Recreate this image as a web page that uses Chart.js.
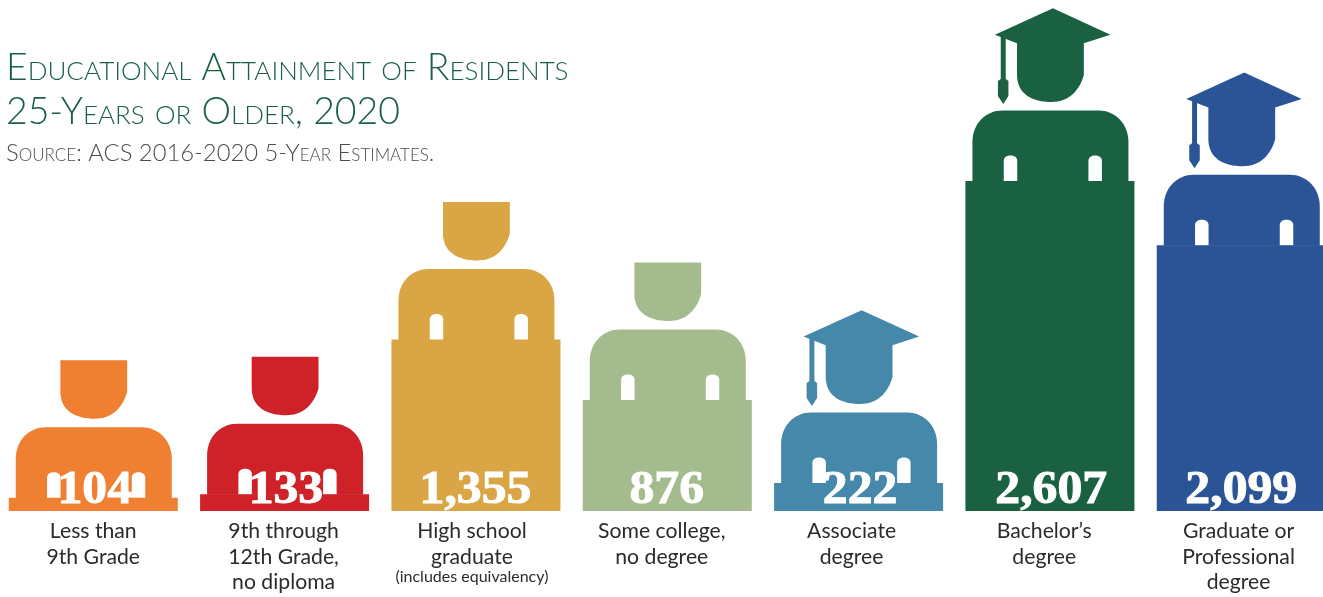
<!DOCTYPE html>
<html>
<head>
<meta charset="utf-8">
<title>Educational Attainment of Residents</title>
<script src="https://cdn.jsdelivr.net/npm/chart.js@4"></script>
<style>
  html, body { margin: 0; padding: 0; width: 1323px; height: 597px; overflow: hidden; background: #fff; }
  canvas { position: absolute; left: -3px; top: 0; }
</style>
</head>
<body>
<canvas id="chart" width="1342" height="597"></canvas>
<script>
// Residents 25 or older by highest level of schooling
const categories = [
  ["Less than", "9th Grade"],
  ["9th through", "12th Grade,", "no diploma"],
  ["High school", "graduate"],
  ["Some college,", "no degree"],
  ["Associate", "degree"],
  ["Bachelor\u2019s", "degree"],
  ["Graduate or", "Professional", "degree"]
];
const residents = [104, 133, 1355, 876, 222, 2607, 2099];
const barColors = ["#EF7F31", "#CE2228", "#DAA544", "#A4BC8D", "#4688AA", "#1A6141", "#2B5497"];
const wearsCap = [false, false, false, false, true, true, true];
const labelNudge = [0, -1, -4, -5.5, -7, -5.7, -2.7];
const valueNudge = [1.5, 1.3, -0.5, -0.5, 1.5, 1.3, 0];
const titleLines = ["Educational Attainment of Residents", "25-Years or Older, 2020"];
const sourceLine = "Source: ACS 2016-2020 5-Year Estimates.";
const footnote = "(includes equivalency)";

const pageX = 3; // canvas sits 3px left of the page edge

function drawFigure(ctx, cx, top, color, capped) {
  const c = cx + 0.5;
  ctx.fillStyle = color;

  // shoulders
  ctx.beginPath();
  ctx.moveTo(c - 78, top + 0.5);
  ctx.lineTo(c - 78, top - 39);
  ctx.bezierCurveTo(c - 78, top - 57, c - 65, top - 70.5, c - 48, top - 70.5);
  ctx.lineTo(c + 48, top - 70.5);
  ctx.bezierCurveTo(c + 65, top - 70.5, c + 78, top - 57, c + 78, top - 39);
  ctx.lineTo(c + 78, top + 0.5);
  ctx.closePath();
  ctx.fill();

  // head, with the mortarboard as part of the same outline when worn
  ctx.beginPath();
  if (capped) {
    ctx.moveTo(c - 55.5, top - 146.3);
    ctx.lineTo(c + 2.5, top - 172.7);
    ctx.lineTo(c + 60, top - 146.3);
    ctx.lineTo(c + 33.4, top - 137.7);
  } else {
    ctx.moveTo(c - 33.4, top - 137.5);
    ctx.lineTo(c + 33.4, top - 137.5);
  }
  ctx.lineTo(c + 33.4, top - 106);
  ctx.bezierCurveTo(c + 29, top - 90, c + 18, top - 79, c + 1, top - 79);
  ctx.bezierCurveTo(c - 18, top - 79, c - 33.4, top - 87, c - 33.4, top - 106);
  if (capped) ctx.lineTo(c - 33.4, top - 137.7);
  ctx.closePath();
  ctx.fill();

  if (capped) {
    // tassel cord and tip
    ctx.beginPath();
    ctx.moveTo(c - 49.7, top - 146);
    ctx.lineTo(c - 44.7, top - 144);
    ctx.lineTo(c - 44.7, top - 102);
    ctx.lineTo(c - 42, top - 100);
    ctx.lineTo(c - 42, top - 85);
    ctx.lineTo(c - 47.2, top - 77);
    ctx.lineTo(c - 52.5, top - 85);
    ctx.lineTo(c - 52.5, top - 100);
    ctx.lineTo(c - 49.7, top - 102);
    ctx.closePath();
    ctx.fill();
  }

  // window notches in the shoulders
  ctx.fillStyle = "#fff";
  [[-46.7, -33.2], [38, 51.5]].forEach(([a, b]) => {
    const r = (b - a) / 2;
    ctx.beginPath();
    ctx.moveTo(c + a, top + 0.5);
    ctx.lineTo(c + a, top - 20);
    ctx.bezierCurveTo(c + a, top - 24, c + a + r * 0.5, top - 25.5, c + a + r, top - 25.5);
    ctx.bezierCurveTo(c + b - r * 0.5, top - 25.5, c + b, top - 24, c + b, top - 20);
    ctx.lineTo(c + b, top + 0.5);
    ctx.closePath();
    ctx.fill();
  });
}

const figurePlugin = {
  id: "figures",
  beforeDatasetsDraw(chart) {
    const ctx = chart.ctx;
    ctx.save();
    chart.getDatasetMeta(0).data.forEach((bar, i) => {
      drawFigure(ctx, bar.x, bar.y, barColors[i], wearsCap[i]);
    });
    ctx.restore();
  },
  afterDatasetsDraw(chart) {
    const ctx = chart.ctx;
    const xScale = chart.scales.x;
    const base = chart.scales.y.getPixelForValue(0);
    ctx.save();

    // value figures inside each bar, widened to a display-serif proportion
    ctx.textAlign = "center";
    ctx.textBaseline = "alphabetic";
    ctx.fillStyle = "#fff";
    ctx.strokeStyle = "#fff";
    ctx.lineWidth = 1;
    ctx.font = "bold 46px 'Liberation Serif'";
    residents.forEach((v, i) => {
      const text = v.toLocaleString("en-US");
      const x = xScale.getPixelForValue(i) + valueNudge[i];
      ctx.save();
      ctx.translate(x, base - 8);
      ctx.scale(1.08, 1);
      ctx.fillText(text, 0, 0);
      ctx.strokeText(text, 0, 0);
      ctx.restore();
    });

    // category labels under the baseline
    ctx.fillStyle = "#2b2b2b";
    ctx.font = "21.2px Lato";
    categories.forEach((lines, i) => {
      const x = xScale.getPixelForValue(i) + labelNudge[i];
      lines.forEach((line, n) => ctx.fillText(line, x, base + 27.3 + n * 25.3));
    });
    ctx.font = "16px Lato";
    ctx.fillText(footnote, xScale.getPixelForValue(2) + labelNudge[2], base + 70.7);

    // heading block
    ctx.textAlign = "left";
    ctx.fillStyle = "#1A6141";
    ctx.font = "small-caps 300 37.4px Lato";
    ctx.fillText(titleLines[0], 6 + pageX, 80);
    ctx.fillText(titleLines[1], 6 + pageX, 124);
    ctx.fillStyle = "#4d4d4d";
    ctx.font = "small-caps 300 23.8px Lato";
    ctx.fillText(sourceLine, 6 + pageX, 161);
    ctx.restore();
  }
};

new Chart(document.getElementById("chart"), {
  type: "bar",
  data: {
    labels: categories,
    datasets: [{
      data: residents,
      backgroundColor: barColors,
      borderWidth: 0,
      barPercentage: 0.8833,
      categoryPercentage: 1
    }]
  },
  options: {
    responsive: false,
    animation: false,
    layout: { padding: { left: 0.6, right: 2.07, top: 0, bottom: 86 } },
    plugins: { legend: { display: false }, tooltip: { enabled: false } },
    scales: {
      x: { display: false, grid: { display: false } },
      y: { display: false, min: 0, max: 4036, grid: { display: false } }
    }
  },
  plugins: [figurePlugin]
});
</script>
</body>
</html>
